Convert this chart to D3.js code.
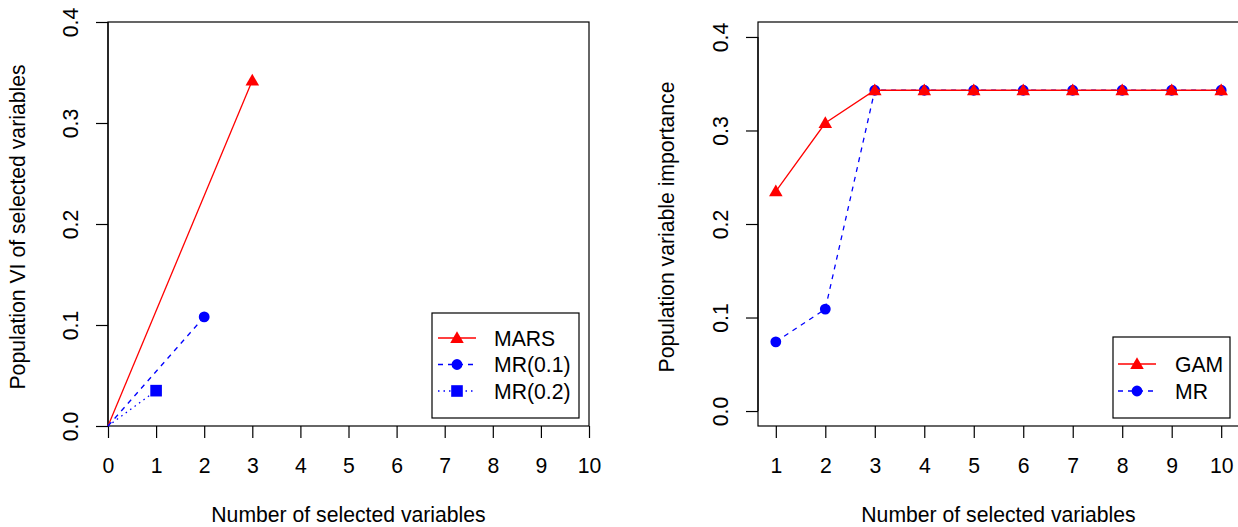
<!DOCTYPE html>
<html>
<head>
<meta charset="utf-8">
<script src="https://cdn.jsdelivr.net/npm/d3@7"></script>
<style>
  html, body { margin: 0; padding: 0; background: #fff; }
  svg { display: block; font-family: "Liberation Sans", Arial, sans-serif; }
</style>
</head>
<body>
<svg id="chart" width="1238" height="527"></svg>
<script>
// ---------- data ----------
// Left panel: cumulative population VI vs number of selected variables
const marsX = [0, 3];
const marsY = [0, 0.342];
const mr01X = [0, 2];
const mr01Y = [0, 0.108];
const mr02X = [0, 1];
const mr02Y = [0, 0.035];
const leftXTicks = [0, 1, 2, 3, 4, 5, 6, 7, 8, 9, 10];
const leftYTicks = [0.0, 0.1, 0.2, 0.3, 0.4];
const leftLegend = ["MARS", "MR(0.1)", "MR(0.2)"];

// Right panel: population variable importance vs number of selected variables
const nVars = [1, 2, 3, 4, 5, 6, 7, 8, 9, 10];
const gamVI = [0.235, 0.308, 0.343, 0.343, 0.343, 0.343, 0.343, 0.343, 0.343, 0.343];
const mrVI  = [0.074, 0.109, 0.343, 0.343, 0.343, 0.343, 0.343, 0.343, 0.343, 0.343];
const rightXTicks = [1, 2, 3, 4, 5, 6, 7, 8, 9, 10];
const rightYTicks = [0.0, 0.1, 0.2, 0.3, 0.4];
const rightLegend = ["GAM", "MR"];

const xTitle = "Number of selected variables";
const leftYTitle = "Population VI of selected variables";
const rightYTitle = "Population variable importance";

// ---------- drawing ----------
const svg = d3.select("#chart");
const FS = 21.2;
const RED = "#ff0000", BLUE = "#0000ff";
const fmt = d3.format(".1f");

const triPath = d3.symbol().type(d3.symbolTriangle).size(80);
const circPath = d3.symbol().type(d3.symbolCircle).size(92);
const sqPath = d3.symbol().type(d3.symbolSquare).size(135);

function panel(cfg) {
  const g = svg.append("g");
  const x = d3.scaleLinear().domain(cfg.xDomain).range([cfg.left, cfg.right]);
  const y = d3.scaleLinear().domain(cfg.yDomain).range([cfg.bottom, cfg.top]);

  // y axis
  const ya = d3.axisLeft(y).tickValues(cfg.yTicks).tickSize(12).tickFormat(fmt);
  const yg = g.append("g").attr("transform", `translate(${cfg.left},0)`).call(ya);
  yg.select(".domain").remove();
  yg.selectAll(".tick line").attr("stroke", "#000").attr("stroke-width", 1.2);
  yg.selectAll(".tick text")
    .attr("x", null).attr("dy", null)
    .attr("transform", "translate(-30,0) rotate(-90)")
    .attr("text-anchor", "middle")
    .attr("font-size", FS).attr("font-family", "Liberation Sans, Arial, sans-serif")
    .attr("fill", "#000");
  g.append("line").attr("x1", cfg.left).attr("x2", cfg.left)
    .attr("y1", y(cfg.yTicks[0])).attr("y2", y(cfg.yTicks[cfg.yTicks.length - 1]))
    .attr("stroke", "#000").attr("stroke-width", 1.2);

  // x axis
  const xa = d3.axisBottom(x).tickValues(cfg.xTicks).tickSize(12).tickFormat(d3.format("d"));
  const xg = g.append("g").attr("transform", `translate(0,${cfg.bottom})`).call(xa);
  xg.select(".domain").remove();
  xg.selectAll(".tick line").attr("stroke", "#000").attr("stroke-width", 1.2);
  xg.selectAll(".tick text")
    .attr("y", 47).attr("dy", null)
    .attr("font-size", FS).attr("font-family", "Liberation Sans, Arial, sans-serif")
    .attr("fill", "#000");

  // box
  g.append("rect").attr("x", cfg.left).attr("y", cfg.top)
    .attr("width", cfg.right - cfg.left).attr("height", cfg.bottom - cfg.top)
    .attr("fill", "none").attr("stroke", "#000").attr("stroke-width", 1.2);

  // titles
  g.append("text").attr("x", (cfg.left + cfg.right) / 2).attr("y", 522)
    .attr("text-anchor", "middle").attr("font-size", FS).text(cfg.xTitle);
  g.append("text")
    .attr("transform", `translate(${cfg.yTitleX},${(cfg.top + cfg.bottom) / 2 + 3}) rotate(-90)`)
    .attr("text-anchor", "middle").attr("font-size", FS).text(cfg.yTitle);

  const plot = g.append("g");
  cfg.series.forEach(s => {
    const pts = s.xs.map((d, i) => [d, s.ys[i]]);
    plot.append("path")
      .attr("d", d3.line().x(d => x(d[0])).y(d => y(d[1]))(pts))
      .attr("fill", "none").attr("stroke", s.color).attr("stroke-width", 1.3)
      .attr("stroke-dasharray", s.dash || null);
    const mpts = s.markerAll ? pts : [pts[pts.length - 1]];
    plot.selectAll(null).data(mpts).enter().append("path")
      .attr("d", s.symbol)
      .attr("transform", d => `translate(${x(d[0])},${y(d[1]) + (s.symbol === triPath ? 1 : 0)})`)
      .attr("fill", s.color);
  });

  // legend
  const L = cfg.legend;
  g.append("rect").attr("x", L.x0).attr("y", L.y0)
    .attr("width", L.x1 - L.x0).attr("height", L.y1 - L.y0)
    .attr("fill", "#fff").attr("stroke", "#000").attr("stroke-width", 1.2);
  L.labels.forEach((lab, i) => {
    const s = cfg.series[i];
    const yy = L.firstY + i * L.step;
    g.append("line").attr("x1", L.lx0).attr("x2", L.lx1).attr("y1", yy).attr("y2", yy)
      .attr("stroke", s.color).attr("stroke-width", 1.3).attr("stroke-dasharray", s.dash || null);
    g.append("path").attr("d", s.symbol)
      .attr("transform", `translate(${(L.lx0 + L.lx1) / 2},${yy + (s.symbol === triPath ? 1 : 0)})`)
      .attr("fill", s.color);
    g.append("text").attr("x", L.tx).attr("y", yy + 7.5)
      .attr("font-size", FS).text(lab);
  });
}

panel({
  left: 108, right: 589, top: 22, bottom: 426,
  xDomain: [0, 10], yDomain: [0, 0.4],
  xTicks: leftXTicks, yTicks: leftYTicks,
  xTitle: xTitle, yTitle: leftYTitle, yTitleX: 25,
  series: [
    { xs: marsX, ys: marsY, color: RED, symbol: triPath },
    { xs: mr01X, ys: mr01Y, color: BLUE, symbol: circPath, dash: "5,5" },
    { xs: mr02X, ys: mr02Y, color: BLUE, symbol: sqPath, dash: "1.5,4" }
  ],
  legend: { x0: 432, x1: 579, y0: 313, y1: 418, firstY: 338, step: 26.5,
            lx0: 438, lx1: 476, tx: 494, labels: leftLegend }
});

// Right panel: MR drawn first so GAM sits on top (legend keeps GAM first)
panel({
  left: 758, right: 1239, top: 22, bottom: 426,
  xDomain: [0.64, 10.36], yDomain: [-0.016, 0.416],
  xTicks: rightXTicks, yTicks: rightYTicks,
  xTitle: xTitle, yTitle: rightYTitle, yTitleX: 674,
  series: [
    { xs: nVars, ys: mrVI, color: BLUE, symbol: circPath, dash: "5,5", markerAll: true },
    { xs: nVars, ys: gamVI, color: RED, symbol: triPath, markerAll: true }
  ],
  legend: { x0: 1113, x1: 1230, y0: 337, y1: 418, firstY: 391, step: -27,
            lx0: 1118, lx1: 1156, tx: 1175, labels: [rightLegend[1], rightLegend[0]] }
});
</script>
</body>
</html>
